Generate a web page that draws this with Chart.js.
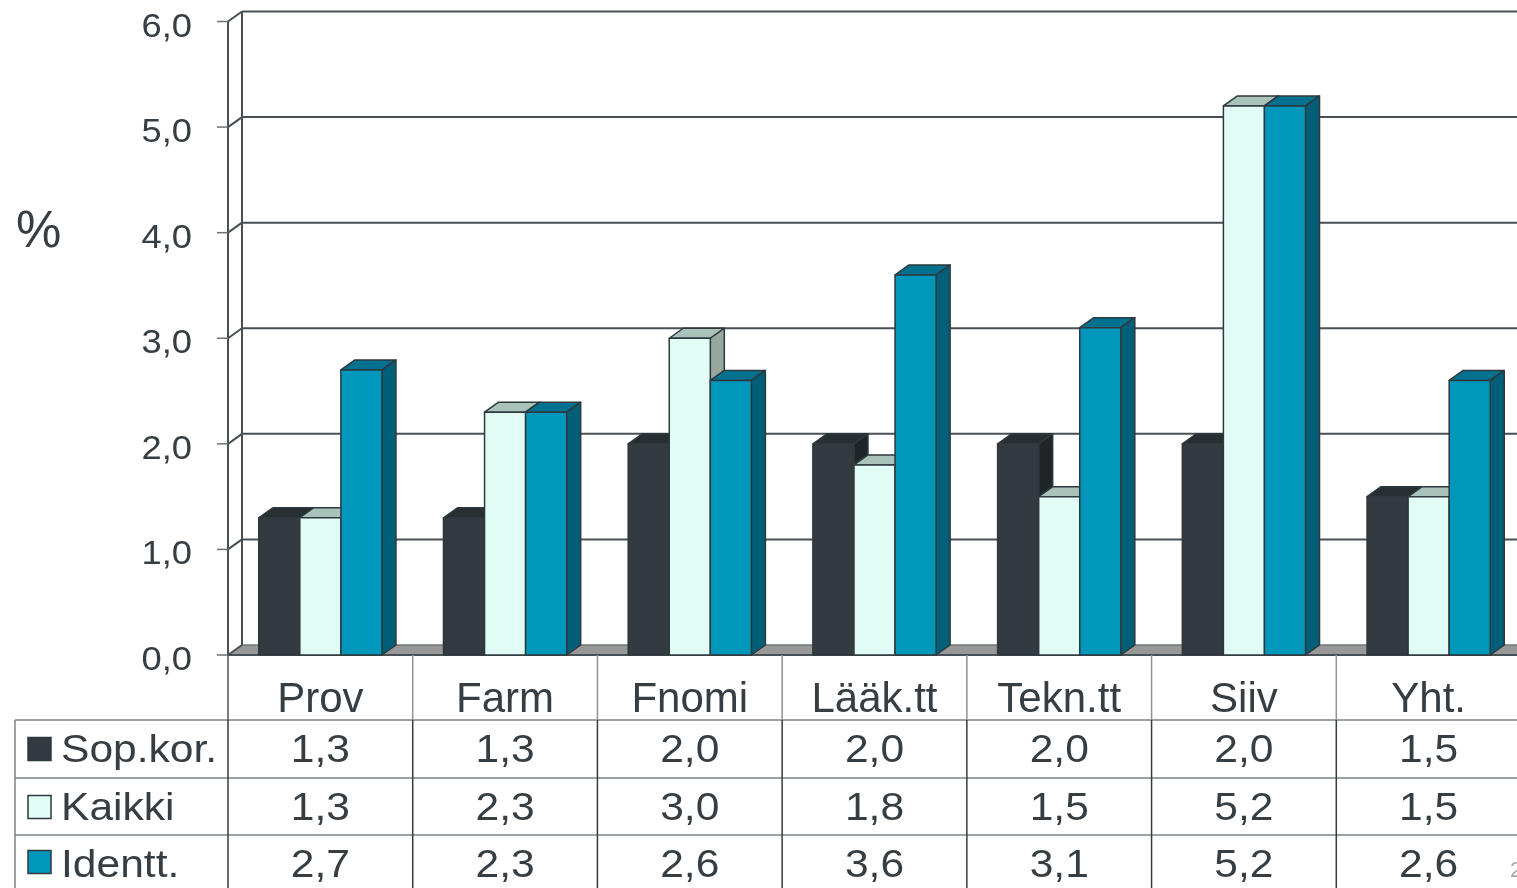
<!DOCTYPE html>
<html>
<head>
<meta charset="utf-8">
<script src="https://cdn.jsdelivr.net/npm/chart.js@4/dist/chart.umd.min.js"></script>
<style>
  html, body { margin: 0; padding: 0; background: #fff; }
  #wrap { width: 1517px; height: 888px; overflow: hidden; }
</style>
</head>
<body>
<div id="wrap"><canvas id="chart" width="1521" height="888"></canvas></div>
<script>
// data
const categories = ['Prov', 'Farm', 'Fnomi', 'Lääk.tt', 'Tekn.tt', 'Siiv', 'Yht.'];
const seriesNames = ['Sop.kor.', 'Kaikki', 'Identt.'];
const sopKor = [1.3, 1.3, 2.0, 2.0, 2.0, 2.0, 1.5];
const kaikki = [1.3, 2.3, 3.0, 1.8, 1.5, 5.2, 1.5];
const identt = [2.7, 2.3, 2.6, 3.6, 3.1, 5.2, 2.6];
const yTickValues = [0, 1, 2, 3, 4, 5, 6];

// faces: front, top, side
const faces = [
  ['#333a40', '#282f32', '#1f2528'],
  ['#e0fcf4', '#a9c3ba', '#98a79d'],
  ['#0097bd', '#00718f', '#005f78']
];
const INK = '#363e43';
const EDGE = '#2e393e';
const DX = 14, DY = -10;

function fmt(v) { return v.toFixed(1).replace('.', ','); }

function wideText(ctx, text, x, y, align, sx) {
  ctx.save();
  ctx.translate(x, y);
  ctx.scale(sx, 1);
  ctx.textAlign = align;
  ctx.fillText(text, 0, 0);
  ctx.restore();
}

function line(ctx, x1, y1, x2, y2) {
  ctx.beginPath();
  ctx.moveTo(x1, y1);
  ctx.lineTo(x2, y2);
  ctx.stroke();
}

const box3d = {
  id: 'box3d',
  beforeDatasetsDraw(chart) {
    const { ctx, chartArea: a, scales: { y } } = chart;
    const y0 = y.getPixelForValue(0);
    ctx.save();
    // floor
    ctx.fillStyle = '#989898';
    ctx.beginPath();
    ctx.moveTo(a.left, y0);
    ctx.lineTo(a.left + DX, y0 + DY);
    ctx.lineTo(a.right + DX, y0 + DY);
    ctx.lineTo(a.right, y0);
    ctx.closePath();
    ctx.fill();
    ctx.strokeStyle = '#70777a';
    ctx.lineWidth = 1.5;
    line(ctx, a.left + DX, y0 + DY, a.right + DX, y0 + DY);

    // back wall grid
    ctx.strokeStyle = '#485055';
    ctx.lineWidth = 2;
    yTickValues.forEach(v => {
      const py = y.getPixelForValue(v);
      if (v > 0) line(ctx, a.left + DX, py + DY, a.right + DX, py + DY);
      line(ctx, a.left, py, a.left + DX, py + DY);
    });
    line(ctx, a.left + DX, a.top + DY, a.left + DX, y0 + DY);
    // front axis
    line(ctx, a.left, a.top, a.left, y0);
    line(ctx, a.left, y0, a.right, y0);
    // tick marks
    ctx.strokeStyle = '#6a7175';
    ctx.lineWidth = 1.5;
    yTickValues.forEach(v => {
      const py = y.getPixelForValue(v);
      line(ctx, a.left - 11, py, a.left, py);
    });
    ctx.restore();
  },
  afterDatasetsDraw(chart) {
    const ctx = chart.ctx;
    ctx.save();
    ctx.strokeStyle = EDGE;
    ctx.lineWidth = 1.5;
    ctx.lineJoin = 'round';
    chart.data.datasets.forEach((ds, i) => {
      const [front, top, side] = faces[i];
      chart.getDatasetMeta(i).data.forEach(bar => {
        const p = bar.getProps(['x', 'y', 'base', 'width'], true);
        const l = p.x - p.width / 2, r = p.x + p.width / 2;
        // top face
        ctx.fillStyle = top;
        ctx.beginPath();
        ctx.moveTo(l, p.y);
        ctx.lineTo(l + DX, p.y + DY);
        ctx.lineTo(r + DX, p.y + DY);
        ctx.lineTo(r, p.y);
        ctx.closePath();
        ctx.fill();
        ctx.stroke();
        // side face
        ctx.fillStyle = side;
        ctx.beginPath();
        ctx.moveTo(r, p.y);
        ctx.lineTo(r + DX, p.y + DY);
        ctx.lineTo(r + DX, p.base + DY);
        ctx.lineTo(r, p.base);
        ctx.closePath();
        ctx.fill();
        ctx.stroke();
        // front face
        ctx.fillStyle = front;
        ctx.fillRect(l, p.y, r - l, p.base - p.y);
        ctx.strokeRect(l, p.y, r - l, p.base - p.y);
      });
    });
    ctx.restore();
  },
  afterDraw(chart) {
    const { ctx, chartArea: a, scales: { x, y } } = chart;
    const catW = (a.right - a.left) / categories.length;
    const y0 = y.getPixelForValue(0);
    ctx.save();
    ctx.fillStyle = INK;
    ctx.textBaseline = 'alphabetic';

    // y tick labels
    ctx.font = '33px "Liberation Sans", Arial, sans-serif';
    yTickValues.forEach(v => {
      wideText(ctx, fmt(v), 192, y.getPixelForValue(v) + 15, 'right', 1.1);
    });
    // unit
    ctx.font = '51px "Liberation Sans", Arial, sans-serif';
    ctx.textAlign = 'left';
    ctx.fillText('%', 16, 247);

    // table grid
    const rowLines = [720, 778, 835];
    ctx.strokeStyle = '#7b8285';
    ctx.lineWidth = 1.5;
    rowLines.forEach(ry => line(ctx, 15, ry, a.right, ry));
    line(ctx, 15, 720, 15, 888);
    for (let k = 0; k <= categories.length; k++) {
      const bx = a.left + k * catW;
      ctx.strokeStyle = k === 0 ? '#4a5257' : '#8d9295';
      line(ctx, bx, y0, bx, 720);
      ctx.strokeStyle = '#343c41';
      line(ctx, bx, 720, bx, 888);
    }

    // category labels
    ctx.font = '42px "Liberation Sans", Arial, sans-serif';
    ctx.textAlign = 'center';
    categories.forEach((c, i) => ctx.fillText(c, x.getPixelForValue(i), 712));

    // series rows
    const baselines = [762, 820, 877];
    const rowMid = [749, 807, 862];
    ctx.font = '38px "Liberation Sans", Arial, sans-serif';
    chart.data.datasets.forEach((ds, s) => {
      ctx.fillStyle = faces[s][0];
      ctx.strokeStyle = EDGE;
      ctx.lineWidth = 1.5;
      ctx.fillRect(28, rowMid[s] - 11.5, 23, 23);
      ctx.strokeRect(28, rowMid[s] - 11.5, 23, 23);
      ctx.fillStyle = INK;
      wideText(ctx, seriesNames[s], 61, baselines[s], 'left', 1.12);
      ds.data.forEach((v, i) => {
        wideText(ctx, fmt(v), x.getPixelForValue(i), baselines[s], 'center', 1.12);
      });
    });

    // slide number fragment
    ctx.fillStyle = '#a5a9ab';
    ctx.font = '22px "Liberation Sans", Arial, sans-serif';
    ctx.textAlign = 'left';
    ctx.fillText('2', 1510, 877);
    ctx.restore();
  }
};

new Chart(document.getElementById('chart'), {
  type: 'bar',
  data: {
    labels: categories,
    datasets: [
      { label: seriesNames[0], data: sopKor, backgroundColor: faces[0][0] },
      { label: seriesNames[1], data: kaikki, backgroundColor: faces[1][0] },
      { label: seriesNames[2], data: identt, backgroundColor: faces[2][0] }
    ]
  },
  options: {
    responsive: false,
    devicePixelRatio: 1,
    animation: false,
    layout: { padding: { left: 228, right: 0, top: 21.5, bottom: 233 } },
    datasets: { bar: { categoryPercentage: 0.667, barPercentage: 1.0, borderWidth: 0 } },
    plugins: { legend: { display: false }, tooltip: { enabled: false } },
    scales: {
      x: { display: false },
      y: { display: false, min: 0, max: 6, ticks: { stepSize: 1 } }
    }
  },
  plugins: [box3d]
});
</script>
</body>
</html>
